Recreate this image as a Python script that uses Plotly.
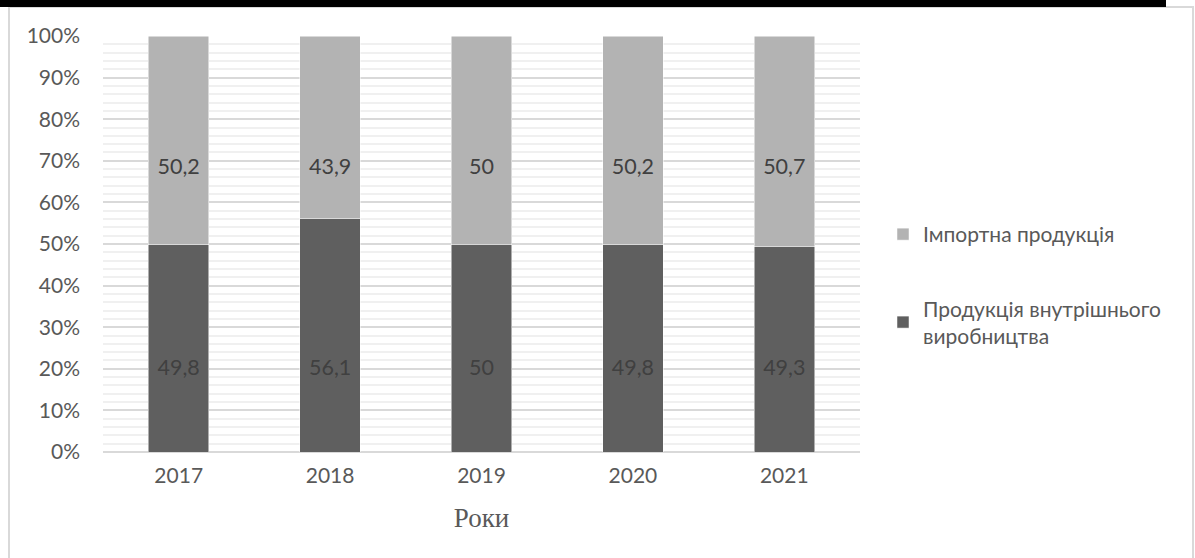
import plotly.graph_objects as go

years = ["2017", "2018", "2019", "2020", "2021"]
domestic = [49.8, 56.1, 50, 49.8, 49.3]
imported = [50.2, 43.9, 50, 50.2, 50.7]
name_import = "Імпортна продукція"
name_domestic = "Продукція внутрішнього<br>виробництва"
axis_title = "Роки"

def fmt(v):
    return ("%g" % v).replace(".", ",")

W, H = 1195, 558
L, R, T, B = 103, 860, 36, 452  # plot area pixels
pw, ph = R - L, B - T

def px(x):
    return (x - L) / pw

def py(y):
    return (B - y) / ph

FONT = "Lato"
LABEL_Y_IMPORT = 0.68
LABEL_Y_DOMESTIC = 0.197

fig = go.Figure()
fig.add_trace(go.Bar(x=years, y=domestic, name=name_domestic,
                     marker=dict(color="#5f5f5f", line=dict(color="#ffffff", width=0.5)),
                     legendgroup="d", legendrank=2, hoverinfo="skip"))
fig.add_trace(go.Bar(x=years, y=imported, name=name_import,
                     marker=dict(color="#b3b3b3", line=dict(color="#ffffff", width=0.5)),
                     legendgroup="i", legendrank=1, hoverinfo="skip"))
fig.add_trace(go.Scatter(x=years, y=[LABEL_Y_DOMESTIC] * len(years), mode="text",
                         text=[fmt(v) for v in domestic], showlegend=False,
                         textfont=dict(family=FONT, size=21.5, color="#404040"), hoverinfo="skip"))
fig.add_trace(go.Scatter(x=years, y=[LABEL_Y_IMPORT] * len(years), mode="text",
                         text=[fmt(v) for v in imported], showlegend=False,
                         textfont=dict(family=FONT, size=21.5, color="#404040"), hoverinfo="skip"))

fig.update_layout(
    width=W, height=H,
    barmode="stack", barnorm="fraction", bargap=0.6,
    plot_bgcolor="white", paper_bgcolor="white",
    margin=dict(l=L, r=W - R, t=T, b=H - B),
    font=dict(family=FONT, size=21, color="#595959"),
    showlegend=True,
    legend=dict(x=px(883), y=py(214), xanchor="left", yanchor="top",
                font=dict(family=FONT, size=21, color="#595959"),
                tracegroupgap=44, itemwidth=30, bgcolor="rgba(0,0,0,0)"),
    xaxis=dict(showline=False, ticks="", ticklabelstandoff=9, tickfont=dict(size=21, color="#595959"),
               title=dict(text=axis_title, font=dict(family="Liberation Serif", size=27, color="#595959"),
                          standoff=22)),
    yaxis=dict(range=[0, 1], tickformat=".0%", dtick=0.1, showgrid=True, gridcolor="#d9d9d9",
               gridwidth=1.5, zeroline=True, zerolinecolor="#d9d9d9", zerolinewidth=1.5,
               ticks="", ticklabelstandoff=22, tickfont=dict(size=21, color="#595959"),
               minor=dict(dtick=0.02, showgrid=True, gridcolor="#f0f0f0", gridwidth=1.5)),
    shapes=[
        dict(type="rect", xref="paper", yref="paper", x0=px(9), x1=px(1193), y0=py(570), y1=py(7),
             line=dict(color="#d9d9d9", width=2), fillcolor="rgba(0,0,0,0)", layer="below"),
        dict(type="rect", xref="paper", yref="paper", x0=px(-5), x1=px(1166), y0=py(7), y1=py(-5),
             line=dict(width=0), fillcolor="black", layer="above"),
    ],
)

fig.write_html("out.html", config={"displayModeBar": False},
               post_script="document.body.style.margin='0';")
